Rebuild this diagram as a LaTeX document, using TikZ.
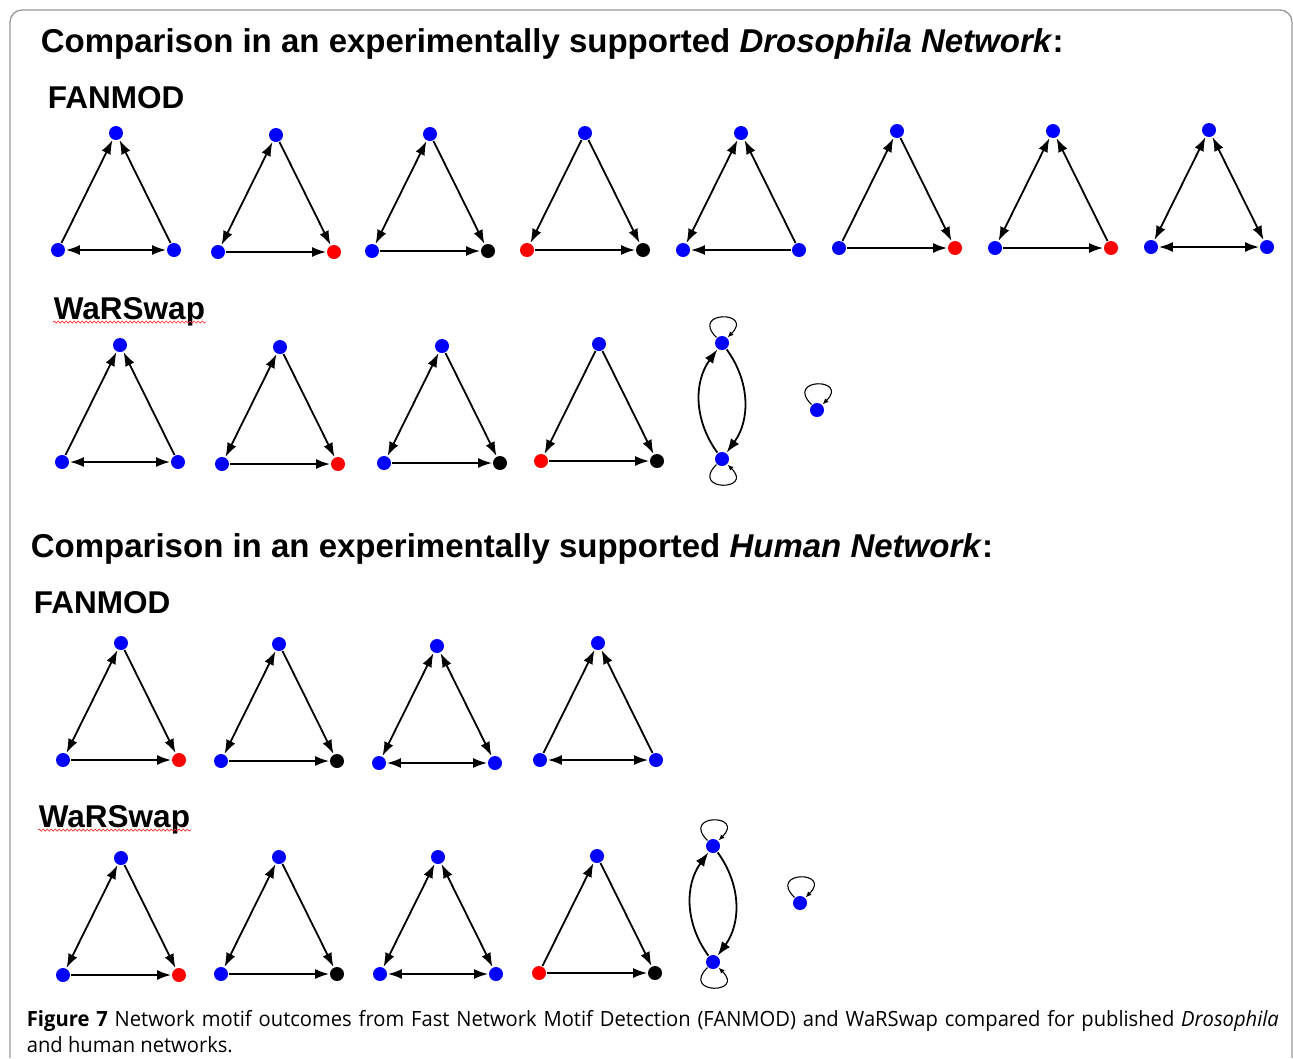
\documentclass[tikz,border=0pt]{standalone}
\usepackage{fontspec}
\setmainfont{Liberation Sans}
\newfontfamily\capfont[FakeStretch=0.96]{Open Sans}
\usepackage{tikz}
\usetikzlibrary{positioning, arrows.meta, decorations.pathmorphing}

\tikzset{
  vb/.style={circle, fill=blue, inner sep=0pt, minimum size=14pt},
  vr/.style={vb, fill=red},
  vk/.style={vb, fill=black},
  heading/.style={anchor=base west, inner sep=0pt, font=\fontsize{33}{40}\selectfont\bfseries},
  tool/.style={anchor=base west, inner sep=0pt, font=\fontsize{31.5}{38}\selectfont\bfseries},
  selfloop/.style={-{Latex[length=6pt,width=5pt]}, line width=1.1pt, min distance=38pt},
  spell/.style={red!80, line width=0.7pt, decorate, decoration={snake, amplitude=1pt, segment length=4pt}}
}

% three-node motif: name, top, left style, right style, t-l, t-r, l-r arrows
\newcommand{\triad}[7]{%
  \node[vb] (#1t) at (#2) {};
  \node[#3] (#1l) [below left=117pt and 58pt of #1t] {};
  \node[#4] (#1r) [below right=117pt and 58pt of #1t] {};
  \path (#1t) edge[#5] (#1l) edge[#6] (#1r)
        (#1l) edge[#7] (#1r);
}
% two nodes with self loops
\newcommand{\dyad}[2]{%
  \node[vb] (#1a) at (#2) {};
  \node[vb] (#1b) [below=116pt of #1a] {};
  \path (#1b) edge[->, bend left=36] (#1a)
        (#1a) edge[->, bend left=36] (#1b)
        (#1a) edge[selfloop, out=135, in=45] (#1a)
        (#1b) edge[selfloop, out=-135, in=-45] (#1b);
}

\begin{document}
\begin{tikzpicture}[x=1pt, y=1pt, on grid, line width=1.8pt,
    >={Latex[length=14pt,width=10pt]}]
  \useasboundingbox (0,0) rectangle (1293,-1058);
  \fill[white] (0,0) rectangle (1293,-1058);
  \draw[gray!80, line width=1.3pt, rounded corners=12pt]
    (10,-1058) -- (10,-10) -- (1292,-10) -- (1292,-1058);

  % Drosophila
  \node[heading] (h1) at (40,-52) {Comparison in an experimentally supported \textit{Drosophila Network}:};
  \node[tool] (fm1) at (47,-108) {FANMOD};
  \triad{a1}{116,-133}{vb}{vb}{<-}{<-}{<->}
  \triad{a2}{276,-135}{vb}{vr}{<->}{->}{->}
  \triad{a3}{430,-134}{vb}{vk}{<->}{->}{->}
  \triad{a4}{585,-133}{vr}{vk}{->}{->}{->}
  \triad{a5}{741,-133}{vb}{vb}{<->}{<-}{<-}
  \triad{a6}{897,-131}{vb}{vr}{<-}{->}{->}
  \triad{a7}{1053,-131}{vb}{vr}{<->}{<-}{->}
  \triad{a8}{1209,-130}{vb}{vb}{<->}{<->}{<->}

  \node[tool] (ws1) at (53,-319) {WaRSwap};
  \draw[spell] ([yshift=-3pt]ws1.base west) -- ([yshift=-3pt]ws1.base east);
  \triad{b1}{120,-345}{vb}{vb}{<-}{<-}{<->}
  \triad{b2}{280,-347}{vb}{vr}{<->}{->}{->}
  \triad{b3}{442,-346}{vb}{vk}{<->}{->}{->}
  \triad{b4}{599,-344}{vr}{vk}{->}{->}{->}
  \dyad{b5}{722,-343}
  \node[vb] (b6) at (817,-410) {};
  \path (b6) edge[selfloop, out=135, in=45] (b6);

  % Human
  \node[heading] (h2) at (30,-557) {Comparison in an experimentally supported \textit{Human Network}:};
  \node[tool] (fm2) at (33,-613) {FANMOD};
  \triad{c1}{121,-643}{vb}{vr}{<->}{->}{->}
  \triad{c2}{279,-644}{vb}{vk}{<->}{->}{->}
  \triad{c3}{437,-646}{vb}{vb}{<->}{<->}{<->}
  \triad{c4}{598,-643}{vb}{vb}{<-}{<-}{<->}

  \node[tool] (ws2) at (38,-827) {WaRSwap};
  \draw[spell] ([yshift=-3pt]ws2.base west) -- ([yshift=-3pt]ws2.base east);
  \triad{d1}{121,-858}{vb}{vr}{<->}{->}{->}
  \triad{d2}{279,-857}{vb}{vk}{<->}{->}{->}
  \triad{d3}{438,-857}{vb}{vb}{<->}{<->}{<->}
  \triad{d4}{597,-856}{vr}{vk}{<-}{->}{->}
  \dyad{d5}{713,-846}
  \node[vb] (d6) at (800,-903) {};
  \path (d6) edge[selfloop, out=135, in=45] (d6);

  % caption
  \node[anchor=north west, inner sep=0pt, text width=1252pt, align=justify,
        font=\capfont\fontsize{21}{26}\selectfont] (cap) at (26,-1010)
    {\textbf{Figure 7} Network motif outcomes from Fast Network Motif Detection (FANMOD) and WaRSwap compared for published \textit{Drosophila}\linebreak and human networks.};
\end{tikzpicture}
\end{document}
